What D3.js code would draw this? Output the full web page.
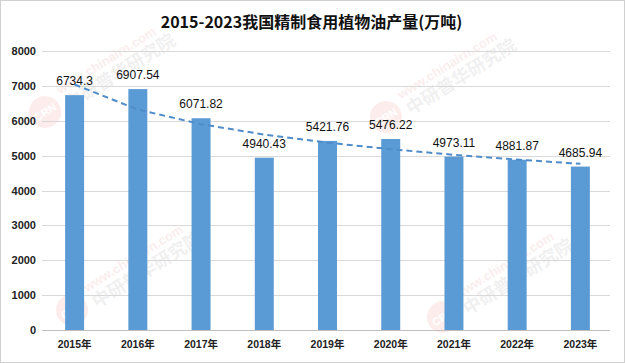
<!DOCTYPE html>
<html>
<head>
<meta charset="utf-8">
<script src="https://cdnjs.cloudflare.com/ajax/libs/d3/7.8.5/d3.min.js"></script>
<style>
  html, body { margin: 0; padding: 0; background: #fff; }
  svg { display: block; font-family: "Liberation Sans", "Noto Sans CJK SC", sans-serif; }
</style>
</head>
<body>
<svg id="canvas"></svg>
<script>
// chart data
const title = '2015-2023我国精制食用植物油产量(万吨)'
const years = ['2015年', '2016年', '2017年', '2018年', '2019年', '2020年', '2021年', '2022年', '2023年']
const output = [6734.3, 6907.54, 6071.82, 4940.43, 5421.76, 5476.22, 4973.11, 4881.87, 4685.94]
const yTicks = [0, 1000, 2000, 3000, 4000, 5000, 6000, 7000, 8000]
const labels = ['6734.3', '6907.54', '6071.82', '4940.43', '5421.76', '5476.22', '4973.11', '4881.87', '4685.94']

const width = 625, height = 363
const plot = { left: 43, right: 612, top: 51, bottom: 330 }
const barColor = '#5b9bd5'

const svg = d3.select('#canvas').attr('width', width).attr('height', height)

svg.append('rect')
    .attr('x', 0.5).attr('y', 0.5)
    .attr('width', width - 1).attr('height', height - 1)
    .attr('fill', '#fff').attr('stroke', '#d0d0d0')

const x = d3.scaleBand().domain(years).range([plot.left, plot.right])
    .paddingInner(0.7).paddingOuter(0.35)
const y = d3.scaleLinear().domain([0, 8000]).range([plot.bottom, plot.top])

// faint watermarks, like the source image
const drawMark = (cx, cy) => {
    const m = svg.append('g')
        .attr('transform', `translate(${cx},${cy}) rotate(-32)`)
        .attr('opacity', 0.09)
    m.append('circle').attr('r', 16).attr('fill', '#e8463a')
    m.append('text').attr('text-anchor', 'middle').attr('y', 4)
        .attr('font-size', 11).attr('font-weight', 'bold').attr('fill', '#fff').text('CRN')
    m.append('text').attr('x', 22).attr('y', -7)
        .attr('font-size', 13).attr('font-weight', 'bold').attr('fill', '#c44').text('www.chinairn.com')
    m.append('text').attr('x', 22).attr('y', 12)
        .attr('font-size', 18).attr('font-weight', 'bold').attr('fill', '#666')
        .attr('font-family', 'Noto Sans CJK SC').text('中研普华研究院')
}
drawMark(45, 112)
drawMark(386, 117)
drawMark(72, 310)
drawMark(443, 317)

// gridlines
svg.append('g').selectAll('line')
    .data(yTicks)
    .enter()
    .append('line')
        .attr('x1', plot.left - 1).attr('x2', plot.right - 2)
        .attr('y1', d => Math.round(y(d)) + 0.5).attr('y2', d => Math.round(y(d)) + 0.5)
        .attr('stroke', d => d === 0 ? '#bfbfbf' : '#d9d9d9')

// y axis labels
const yAxis = svg.append('g')
    .attr('transform', `translate(${plot.left - 7},0)`)
    .call(d3.axisLeft(y).tickValues(yTicks).tickSize(0).tickPadding(0).tickFormat(d3.format('d')))
yAxis.select('.domain').remove()
yAxis.selectAll('text')
    .attr('font-size', 11).attr('font-weight', 'bold').attr('fill', '#222')
    .attr('font-family', '"Liberation Sans", sans-serif')

// x axis labels
const xAxis = svg.append('g')
    .attr('transform', `translate(0,${plot.bottom + 11})`)
    .call(d3.axisBottom(x).tickSize(0).tickPadding(0))
xAxis.select('.domain').remove()
xAxis.selectAll('text')
    .attr('font-size', 10.5).attr('font-weight', 'bold').attr('fill', '#222')
    .attr('font-family', '"Liberation Sans", "Noto Sans CJK SC", sans-serif')

// bars
svg.append('g').selectAll('rect')
    .data(output)
    .enter()
    .append('rect')
        .attr('x', (d, i) => x(years[i]))
        .attr('y', d => y(d))
        .attr('width', x.bandwidth())
        .attr('height', d => y(0) - y(d))
        .attr('fill', barColor)

// logarithmic trendline fitted to the data (y = a + b ln(n))
const lnX = output.map((d, i) => Math.log(i + 1))
const mx = d3.mean(lnX), my = d3.mean(output)
const b = d3.sum(lnX, (l, i) => (l - mx) * (output[i] - my)) / d3.sum(lnX, l => (l - mx) ** 2)
const a = my - b * mx
const trend = years.map((yr, i) => ({ yr, v: a + b * Math.log(i + 1) }))

svg.append('path')
    .datum(trend)
    .attr('d', d3.line().x(d => x(d.yr) + x.bandwidth() / 2).y(d => y(d.v)))
    .attr('fill', 'none')
    .attr('stroke', '#4f8cc9')
    .attr('stroke-width', 2)
    .attr('stroke-dasharray', '6,4')

// value labels
svg.append('g').selectAll('text')
    .data(output)
    .enter()
    .append('text')
        .attr('x', (d, i) => x(years[i]) + x.bandwidth() / 2)
        .attr('y', d => y(d) - 10)
        .attr('text-anchor', 'middle')
        .attr('font-size', 12)
        .attr('fill', '#111')
        .text((d, i) => labels[i])

// title
svg.append('text')
    .attr('x', width / 2 - 1).attr('y', 28)
    .attr('text-anchor', 'middle')
    .attr('font-size', 16)
    .attr('font-weight', 'bold')
    .attr('fill', '#111')
    .attr('font-family', '"Noto Sans CJK SC", sans-serif')
    .text(title)
</script>
</body>
</html>
